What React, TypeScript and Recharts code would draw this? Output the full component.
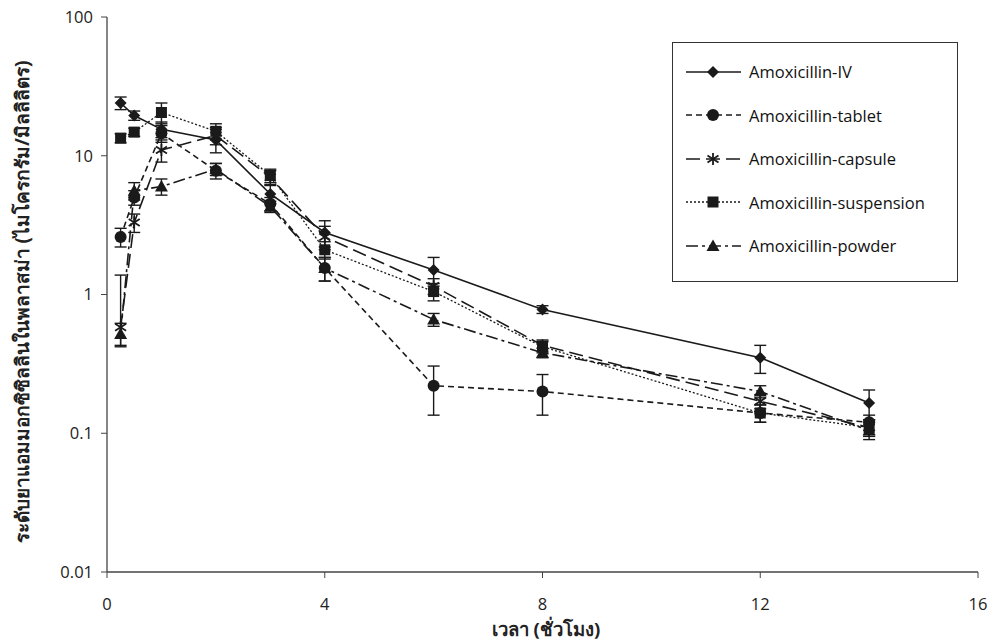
import React from "react";
import {
  LineChart,
  Line,
  XAxis,
  YAxis,
  ErrorBar,
  Legend,
  Label,
} from "recharts";

// sampling times (hours)
const times = [0.25, 0.5, 1, 2, 3, 4, 6, 8, 12, 14];

// plasma amoxicillin (µg/mL)
const ivValues = [24, 19.5, 15.5, 13, 5.3, 2.8, 1.5, 0.78, 0.35, 0.165];
const tabletValues = [2.6, 5.0, 14.5, 7.8, 4.5, 1.55, 0.22, 0.2, 0.14, 0.12];
const capsuleValues = [0.58, 3.3, 11, 14, 7.0, 2.6, 1.15, 0.43, 0.17, 0.11];
const suspensionValues = [13.4, 14.8, 20.5, 15, 7.2, 2.1, 1.05, 0.42, 0.14, 0.11];
const powderValues = [0.52, 5.6, 6.0, 8.0, 4.3, 1.55, 0.66, 0.38, 0.2, 0.105];

// standard deviations ([low, high] where the bar is lopsided)
const ivErr = [2.5, 1.5, 2, 2.5, 0.8, 0.6, 0.35, 0.05, 0.08, 0.04];
const tabletErr = [0.4, 0.6, 2, 1, 0.5, 0.3, 0.085, 0.065, 0.02, 0.015];
const capsuleErr: (number | number[])[] = [[0.15, 0.8], 0.5, 2, 2, 0.8, 0.5, 0.15, 0.04, 0.02, 0.015];
const suspensionErr = [1, 1, 3.5, 2, 0.8, 0.3, 0.15, 0.04, 0.02, 0.015];
const powderErr = [0.1, 0.8, 0.8, 0.8, 0.4, 0.3, 0.07, 0.03, 0.02, 0.015];

const xTicks = [0, 4, 8, 12, 16];
const yTicks = [0.01, 0.1, 1, 10, 100];

const data = times.map((t, i) => ({
  t,
  iv: ivValues[i],
  ivErr: ivErr[i],
  tablet: tabletValues[i],
  tabletErr: tabletErr[i],
  capsule: capsuleValues[i],
  capsuleErr: capsuleErr[i],
  suspension: suspensionValues[i],
  suspensionErr: suspensionErr[i],
  powder: powderValues[i],
  powderErr: powderErr[i],
}));

type Shape = "diamond" | "circle" | "star" | "square" | "triangle";

const INK = "#1a1a1a";

function Marker({ shape, cx, cy }: { shape: Shape; cx: number; cy: number }) {
  switch (shape) {
    case "diamond":
      return (
        <path
          d={`M${cx},${cy - 6} L${cx + 6},${cy} L${cx},${cy + 6} L${cx - 6},${cy} Z`}
          fill={INK}
        />
      );
    case "circle":
      return <circle cx={cx} cy={cy} r={6} fill={INK} />;
    case "square":
      return <rect x={cx - 5.5} y={cy - 5.5} width={11} height={11} fill={INK} />;
    case "triangle":
      return (
        <path
          d={`M${cx},${cy - 6.5} L${cx + 6.5},${cy + 5} L${cx - 6.5},${cy + 5} Z`}
          fill={INK}
        />
      );
    case "star":
      return (
        <g stroke={INK} strokeWidth={1.8}>
          <line x1={cx} y1={cy - 6} x2={cx} y2={cy + 6} />
          <line x1={cx - 5.5} y1={cy - 3.5} x2={cx + 5.5} y2={cy + 3.5} />
          <line x1={cx - 5.5} y1={cy + 3.5} x2={cx + 5.5} y2={cy - 3.5} />
        </g>
      );
  }
}

const dotFor = (shape: Shape) => (props: any) => {
  const { cx, cy, index } = props;
  if (cx == null || cy == null) return <g key={`${shape}-${index}`} />;
  return (
    <g key={`${shape}-${index}`}>
      <Marker shape={shape} cx={cx} cy={cy} />
    </g>
  );
};

interface SeriesDef {
  key: string;
  name: string;
  shape: Shape;
  dash?: string;
  width: number;
}

const series: SeriesDef[] = [
  { key: "iv", name: "Amoxicillin-IV", shape: "diamond", width: 1.6 },
  { key: "tablet", name: "Amoxicillin-tablet", shape: "circle", dash: "6 4", width: 1.6 },
  { key: "capsule", name: "Amoxicillin-capsule", shape: "star", dash: "14 6", width: 1.6 },
  { key: "suspension", name: "Amoxicillin-suspension", shape: "square", dash: "2 2", width: 1.3 },
  { key: "powder", name: "Amoxicillin-powder", shape: "triangle", dash: "12 4 3 4", width: 1.6 },
];

function LegendBox() {
  return (
    <div
      style={{
        border: "1.5px solid #333",
        width: 286,
        height: 240,
        boxSizing: "border-box",
        background: "#fff",
        paddingTop: 7,
      }}
    >
      {series.map((s) => (
        <div
          key={s.key}
          style={{ display: "flex", alignItems: "center", height: 43.5 }}
        >
          <svg width={72} height={20} style={{ marginLeft: 10 }}>
            <line
              x1={3}
              y1={10}
              x2={58}
              y2={10}
              stroke={INK}
              strokeWidth={s.width}
              strokeDasharray={s.dash}
            />
            <Marker shape={s.shape} cx={30} cy={10} />
          </svg>
          <span
            style={{
              fontFamily: "'Open Sans', sans-serif",
              fontSize: 16.5,
              color: "#111",
              marginLeft: -6,
            }}
          >
            {s.name}
          </span>
        </div>
      ))}
    </div>
  );
}

const tickStyle = { fill: "#222", fontSize: 16.5, fontFamily: "'Open Sans', sans-serif" };

export default function App() {
  return (
    <div style={{ width: 998, height: 643, background: "#fff" }}>
      <style>{`body{margin:0;}`}</style>
      <LineChart
        width={998}
        height={643}
        data={data}
        margin={{ top: 17, right: 20, bottom: 0, left: 0 }}
      >
        <XAxis
          dataKey="t"
          type="number"
          domain={[0, 16]}
          ticks={xTicks}
          tick={tickStyle}
          tickSize={6}
          tickMargin={20}
          axisLine={{ stroke: "#444", strokeWidth: 1.3 }}
          tickLine={{ stroke: "#444" }}
          height={71}
        >
          <Label
            content={() => (
              <text
                x={546}
                y={628}
                textAnchor="middle"
                dominantBaseline="central"
                fontSize={18.5}
                fontWeight="bold"
                fill="#222"
                fontFamily="'Noto Sans', sans-serif"
              >
                เวลา (ชั่วโมง)
              </text>
            )}
          />
        </XAxis>
        <YAxis
          type="number"
          scale="log"
          domain={[0.01, 100]}
          ticks={yTicks}
          allowDataOverflow
          tickFormatter={(v: number) => String(v)}
          tick={tickStyle}
          tickSize={6}
          tickMargin={8}
          axisLine={{ stroke: "#444", strokeWidth: 1.3 }}
          tickLine={{ stroke: "#444" }}
          width={107}
        >
          <Label
            content={() => (
              <text
                x={22}
                y={302}
                transform="rotate(-90 22 302)"
                textAnchor="middle"
                dominantBaseline="central"
                fontSize={19}
                fontWeight="bold"
                fill="#222"
                fontFamily="'Noto Sans', sans-serif"
              >
                ระดับยาแอมมอกซิซิลลินในพลาสม่า (ไมโครกรัม/มิลลิลิตร)
              </text>
            )}
          />
        </YAxis>
        <Legend
          layout="vertical"
          align="center"
          verticalAlign="middle"
          content={() => <LegendBox />}
          wrapperStyle={{ left: 672, top: 42, width: 286, height: 240 }}
        />
        {series.map((s) => (
          <Line
            key={s.key}
            dataKey={s.key}
            name={s.name}
            type="linear"
            stroke={INK}
            strokeWidth={s.width}
            strokeDasharray={s.dash}
            dot={dotFor(s.shape)}
            activeDot={false}
            isAnimationActive={false}
          >
            <ErrorBar
              dataKey={`${s.key}Err`}
              direction="y"
              width={6}
              stroke={INK}
              strokeWidth={1.4}
            />
          </Line>
        ))}
      </LineChart>
    </div>
  );
}
